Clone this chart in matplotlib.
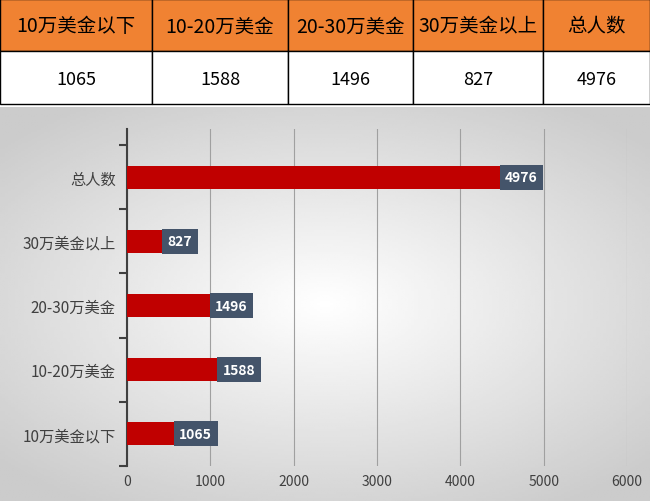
import matplotlib
matplotlib.use("Agg")
import matplotlib.pyplot as plt
import matplotlib.transforms as mtransforms
import numpy as np
from matplotlib.patches import Rectangle

plt.rcParams['font.family'] = ['Noto Sans CJK SC', 'DejaVu Sans']

categories = ["10万美金以下", "10-20万美金", "20-30万美金", "30万美金以上", "总人数"]
values = [1065, 1588, 1496, 827, 4976]

W, H = 650, 502
fig = plt.figure(figsize=(W/100, H/100), dpi=100)

bg = fig.add_axes([0, 0, 1, (H-108)/H])
yy, xx = np.mgrid[0:1:200j, 0:1:200j]
r = np.sqrt((xx-0.5)**2 + ((yy-0.5)*1.1)**2)
img = np.clip(1.0 - 0.3*r, 0.8, 1.0)
bg.imshow(img, cmap='gray', vmin=0, vmax=1, aspect='auto', extent=[0, 1, 0, 1])
bg.axis('off')

tb = fig.add_axes([0, (H-108)/H, 1, 108/H])
tb.set_xlim(0, W); tb.set_ylim(108, 0); tb.axis('off')
edges = [0, 152, 288, 413, 543, 650]
for i in range(5):
    x0, x1 = edges[i], edges[i+1]
    tb.add_patch(Rectangle((x0, 0), x1-x0, 52, facecolor='#F08232', edgecolor='black', lw=1))
    tb.add_patch(Rectangle((x0, 52), x1-x0, 53, facecolor='white', edgecolor='black', lw=1))
    tb.text((x0+x1)/2, 27, categories[i], ha='center', va='center', fontsize=14)
    tb.text((x0+x1)/2, 80, str(values[i]), ha='center', va='center', fontsize=13)

ax = fig.add_axes([127/W, (H-467)/H, 500/W, 337/H])
ax.patch.set_alpha(0)
y = np.arange(len(categories))
ax.barh(y, values, height=0.36, color='#C00000', zorder=3)
for yi, v in zip(y, values):
    ax.text(v - 45, yi, str(v), ha='right', va='center', color='white', fontsize=10,
            fontweight='bold', zorder=4,
            bbox=dict(boxstyle='square,pad=0.4', fc='#44546A', ec='none'))
ax.set_xlim(0, 6000)
ax.set_ylim(-0.5, 4.75)
ax.set_xticks(range(0, 6001, 1000))
ax.set_yticks(y)
ax.set_yticklabels(categories, fontsize=11, color='#404040')
offset = mtransforms.ScaledTranslation(0, 9/100, fig.dpi_scale_trans)
for lbl in ax.get_yticklabels():
    lbl.set_transform(lbl.get_transform() + offset)
ax.tick_params(axis='x', length=0, labelsize=10, colors='#404040', pad=6)
ax.set_yticks(np.arange(-0.5, 4.6, 1), minor=True)
ax.tick_params(axis='y', which='minor', length=6, width=1.5, color='#404040')
ax.tick_params(axis='y', which='major', length=0, pad=8)
ax.grid(axis='x', color='#A0A0A0', lw=0.8, zorder=0)
for s in ['top', 'right', 'bottom']:
    ax.spines[s].set_visible(False)
ax.spines['left'].set_color('#404040')
ax.spines['left'].set_linewidth(1.5)

fig.savefig('out.png', dpi=100)
